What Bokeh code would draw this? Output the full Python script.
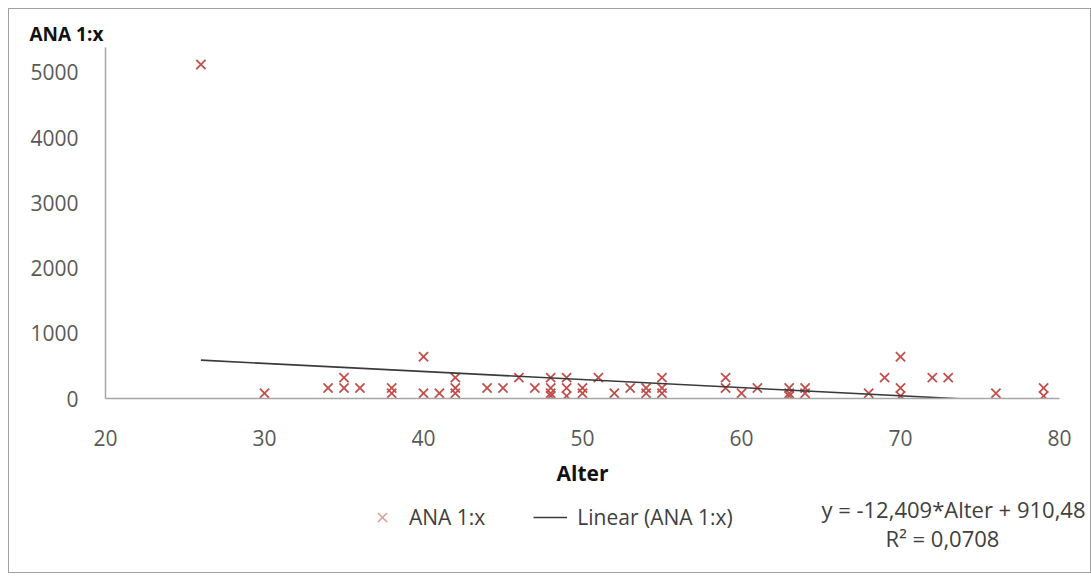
from bokeh.plotting import figure
from bokeh.models import Range1d, Legend, LegendItem, Label
from bokeh.layouts import column
from bokeh.embed import file_html
from bokeh.resources import INLINE

# ---- data ----
alter = [26, 30, 34, 35, 35, 36, 38, 38, 40, 40, 41, 42, 42, 42, 44, 45, 46, 47,
         48, 48, 48, 48, 49, 49, 49, 50, 50, 51, 52, 53, 54, 54, 55, 55, 55,
         59, 59, 60, 61, 63, 63, 63, 64, 64, 68, 69, 70, 70, 70, 72, 73, 76, 79, 79]
ana = [5120, 80, 160, 320, 160, 160, 80, 160, 640, 80, 80, 320, 160, 80, 160, 160, 320, 160,
       320, 160, 80, 40, 320, 160, 40, 160, 80, 320, 80, 160, 160, 80, 320, 160, 80,
       320, 160, 80, 160, 160, 80, 40, 160, 80, 80, 320, 640, 160, 40, 320, 320, 80, 160, 40]

slope = -12.409
intercept = 910.48
r_squared = 0.0708

x_ticks = [20, 30, 40, 50, 60, 70, 80]
y_ticks = [0, 1000, 2000, 3000, 4000, 5000]

series_name = "ANA 1:x"
trend_name = "Linear (ANA 1:x)"
x_title = "Alter"

FONT = "Open Sans"
RED = "#c0504d"
TREND = "#3a3a3a"

W = 1081

# ---------------- main chart ----------------
p = figure(width=W, height=483, output_backend="svg", toolbar_location=None,
           x_range=Range1d(20, 80), y_range=Range1d(0, 5380),
           min_border_left=96, min_border_right=31, min_border_top=38, min_border_bottom=94)
p.frame_align = False
p.outline_line_color = None
p.xgrid.grid_line_color = None
p.ygrid.grid_line_color = None
p.background_fill_color = "white"
p.border_fill_color = "white"

p.title.text = series_name
p.title.align = "left"
p.title.vertical_align = "middle"
p.title.offset = -76
p.title.text_font = FONT
p.title.text_font_size = "19px"
p.title.text_font_style = "bold"
p.title.text_color = "#111111"
p.title.standoff = 0

for ax in (p.xaxis, p.yaxis):
    ax.major_tick_line_color = None
    ax.minor_tick_line_color = None
    ax.axis_line_color = "#a6a6a6"
    ax.axis_line_width = 1.5
    ax.major_label_text_font = FONT
    ax.major_label_text_font_size = "21px"
    ax.major_label_text_color = "#595959"

p.xaxis.ticker = x_ticks
p.yaxis.ticker = y_ticks
p.xaxis.major_label_standoff = 25
p.yaxis.major_label_standoff = 21
p.xaxis.axis_label = x_title
p.xaxis.axis_label_text_font = FONT
p.xaxis.axis_label_text_font_style = "bold"
p.xaxis.axis_label_text_font_size = "21px"
p.xaxis.axis_label_text_color = "#111111"
p.xaxis.axis_label_standoff = 10

p.scatter(alter, ana, marker="x", size=13, line_color=RED, line_width=1.8)

tx = [min(alter), max(alter)]
ty = [slope * v + intercept for v in tx]
p.line(tx, ty, line_color=TREND, line_width=1.6)

# ---------------- legend / equation strip ----------------
p2 = figure(width=W, height=80, output_backend="svg", toolbar_location=None,
            x_range=Range1d(0, W), y_range=Range1d(80, 0),
            min_border=0, x_axis_type=None, y_axis_type=None)
p2.frame_align = False
p2.outline_line_color = None
p2.xgrid.grid_line_color = None
p2.ygrid.grid_line_color = None
p2.background_fill_color = "white"
p2.border_fill_color = "white"

# key renderers for the legend (their single point lies outside this strip's ranges)
sc_key = p2.scatter([alter[0]], [ana[0]], marker="x", size=13, line_color=RED,
                    line_width=1.6, line_alpha=0.55)
ln_key = p2.line([tx[0], tx[-1]], [ty[0] + 1000, ty[-1] + 1000], line_color=TREND, line_width=1.6)

legend = Legend(items=[LegendItem(label=series_name, renderers=[sc_key]),
                       LegendItem(label=trend_name, renderers=[ln_key])],
                orientation="horizontal", location=(356, 39),
                label_text_font=FONT, label_text_font_size="21px",
                label_text_color="#404040", background_fill_alpha=0,
                border_line_color=None, padding=0, margin=0, spacing=48,
                glyph_width=34, glyph_height=32, label_standoff=10)
p2.add_layout(legend, "center")

eq_text = "y = {:.3f}*Alter + {:.2f}".format(slope, intercept).replace(".", ",")
r2_text = "R\u00b2 = {:.4f}".format(r_squared).replace(".", ",")

p2.add_layout(Label(x=1076, y=16, text=eq_text, text_align="right", text_baseline="middle",
                    text_font=FONT, text_font_size="22px", text_color="#404040"))
p2.add_layout(Label(x=933, y=45, text=r2_text, text_align="center", text_baseline="middle",
                    text_font=FONT, text_font_size="22px", text_color="#404040"))

layout = column(p, p2, spacing=0,
                styles={"border": "1px solid #a0a0a0", "margin-left": "8px", "margin-top": "8px",
                        "background-color": "white"})

open("out.html", "w").write(file_html(layout, INLINE))
